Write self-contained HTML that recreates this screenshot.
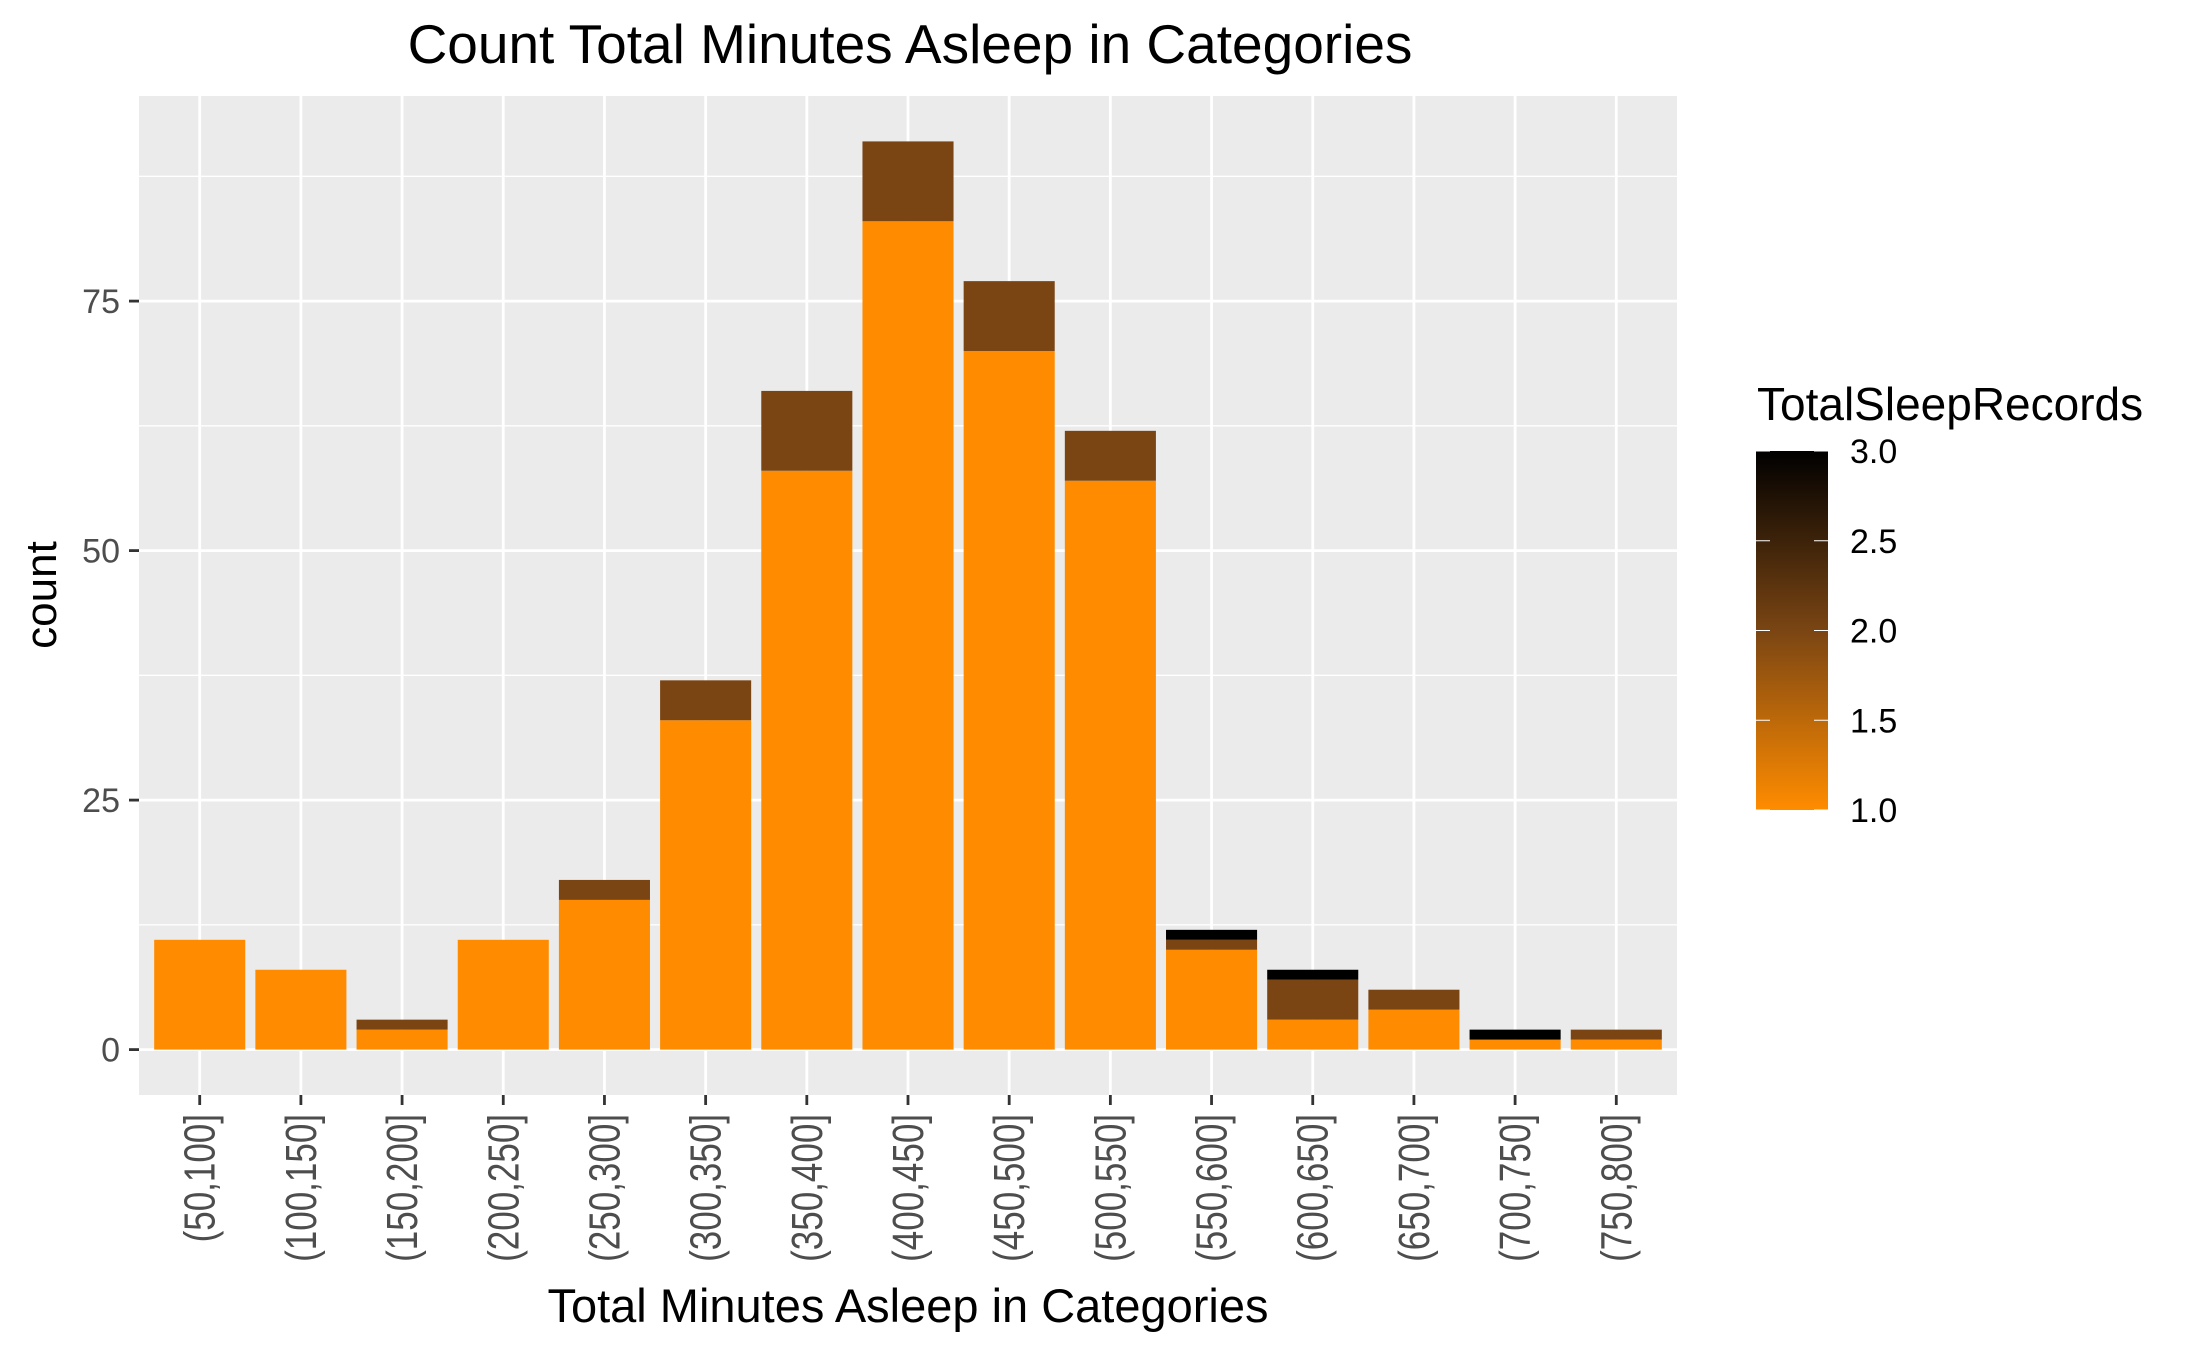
<!DOCTYPE html>
<html><head><meta charset="utf-8"><style>
html,body{margin:0;padding:0;background:#fff;}
svg{display:block;font-family:"Liberation Sans",Arial,sans-serif;}
</style></head><body>
<svg id="chart" width="2187" height="1351" viewBox="0 0 2187 1351">
<defs>
<linearGradient id="lg" x1="0" y1="1" x2="0" y2="0">
<stop offset="0" stop-color="#FF8C00"/><stop offset="0.5" stop-color="#7A4513"/><stop offset="1" stop-color="#000"/>
</linearGradient>
</defs>
<rect x="139" y="96" width="1538" height="999" fill="#EBEBEB"/>
<g id="grid"></g><g id="bars"></g><g id="axes"></g>
<text x="910" y="63" font-size="55" text-anchor="middle" fill="#000">Count Total Minutes Asleep in Categories</text>
<text transform="translate(56,595) rotate(-90)" font-size="44" text-anchor="middle" fill="#000">count</text>
<text x="908" y="1322" font-size="47" text-anchor="middle" fill="#000">Total Minutes Asleep in Categories</text>
<g>
<text x="1757" y="420" font-size="46" fill="#000">TotalSleepRecords</text>
<rect x="1756" y="451" width="72" height="359" fill="url(#lg)"/>
<g id="legend-ticks"></g>
</g>
</svg>
<script>
const categories=["(50,100]","(100,150]","(150,200]","(200,250]","(250,300]","(300,350]","(350,400]","(400,450]","(450,500]","(500,550]","(550,600]","(600,650]","(650,700]","(700,750]","(750,800]"];
const records1=[11,8,2,11,15,33,58,83,70,57,10,3,4,1,1];
const records2=[0,0,1,0,2,4,8,8,7,5,1,4,2,0,1];
const records3=[0,0,0,0,0,0,0,0,0,0,1,1,0,1,0];
const yTicks=[0,25,50,75];
const legendTicks=[1.0,1.5,2.0,2.5,3.0];

const NS="http://www.w3.org/2000/svg";
const L=139,R=1677,T=96,B=1095;
const yMax=95.55,yMin=-4.55;
const y=v=>B-(v-yMin)/(yMax-yMin)*(B-T);
const bw=(R-L)/(categories.length-1+1.2);
const x=i=>L+(0.6+i)*bw;
function mk(tag,attrs,parent){const e=document.createElementNS(NS,tag);for(const k in attrs)e.setAttribute(k,attrs[k]);parent.appendChild(e);return e;}
const grid=document.getElementById('grid'),bars=document.getElementById('bars'),axes=document.getElementById('axes');
for(let i=0;i<yTicks.length;i++){
  const m=mk('line',{x1:L,x2:R,y1:y(yTicks[i]+12.5),y2:y(yTicks[i]+12.5),stroke:'#fff','stroke-width':1.4},grid);
  
  
  const g=mk('line',{x1:L,x2:R,y1:y(yTicks[i]),y2:y(yTicks[i]),stroke:'#fff','stroke-width':2.8},grid);
  
  
  const t=mk('line',{x1:129,x2:139,y1:y(yTicks[i]),y2:y(yTicks[i]),stroke:'#333','stroke-width':2.8},axes);
  
  
  const tx=mk('text',{x:120,y:y(yTicks[i])+12,'font-size':34,'text-anchor':'end',fill:'#4D4D4D'},axes);
  tx.textContent=yTicks[i];
  
  
}
categories.forEach((c,i)=>{
  const cx=x(i);
  const g=mk('line',{x1:cx,x2:cx,y1:T,y2:B,stroke:'#fff','stroke-width':2.8},grid);
  
  
  const segs=[[records1[i],'#FF8C00'],[records2[i],'#7A4513'],[records3[i],'#000']];
  let base=0;
  segs.forEach(([v,col],k)=>{
    if(v>0){
      const r=mk('rect',{x:cx-bw*0.45,width:bw*0.9,y:y(base+v),height:y(base)-y(base+v),fill:col},bars);
      
      
    }
    base+=v;
  });
  const t=mk('line',{x1:cx,x2:cx,y1:B,y2:B+10,stroke:'#333','stroke-width':2.8},axes);
  
  
  const tx=mk('text',{transform:`translate(${cx+15},1114) rotate(-90) scale(1,1.25)`,'font-size':35,'text-anchor':'end',fill:'#4D4D4D'},axes);
  tx.textContent=c;
  
  
});
const lt=document.getElementById('legend-ticks');
legendTicks.forEach(v=>{
  const ly=810-(v-1)/2*359;
  const a=mk('line',{x1:1756,x2:1770,y1:ly,y2:ly,stroke:'#fff','stroke-width':1},lt);
  
  
  const b=mk('line',{x1:1814,x2:1828,y1:ly,y2:ly,stroke:'#fff','stroke-width':1},lt);
  
  
  const tx=mk('text',{x:1850,y:ly+12,'font-size':34,fill:'#000'},lt);
  tx.textContent=v.toFixed(1);
  
  
});
</script>
</body></html>
